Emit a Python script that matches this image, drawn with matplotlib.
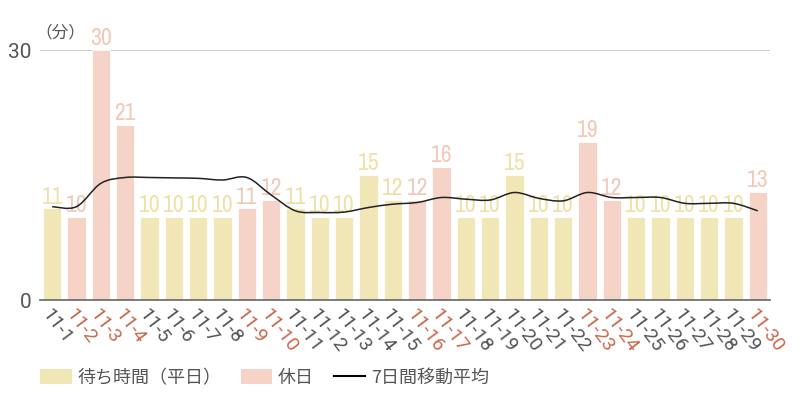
import matplotlib
matplotlib.use('Agg')
import matplotlib.pyplot as plt
import numpy as np
from matplotlib import font_manager
from matplotlib.path import Path
from matplotlib.patches import PathPatch, Patch
from matplotlib.lines import Line2D

plt.rcParams['font.family'] = ['Noto Sans CJK JP', 'DejaVu Sans']

# data
days = list(range(1, 31))
tick_labels = ['11-' + str(d) for d in days]
wait_minutes = [11, 10, 30, 21, 10, 10, 10, 10, 11, 12,
                11, 10, 10, 15, 12, 12, 16, 10, 10, 15,
                10, 10, 19, 12, 10, 10, 10, 10, 10, 13]
holidays = [2, 3, 4, 9, 10, 16, 17, 23, 24, 30]
moving_avg = [11.2, 11.2, 14.0, 14.7, 14.7, 14.65, 14.6, 14.4, 14.7, 12.6,
              10.7, 10.5, 10.55, 11.1, 11.5, 11.7, 12.3, 12.1, 12.0, 12.9,
              12.2, 11.9, 12.9, 12.3, 12.3, 12.3, 11.6, 11.6, 11.6, 10.7]

weekday_color = '#F1E6B6'
holiday_color = '#F5D4C7'
weekday_text = '#EEE1A8'
holiday_text = '#F1C9B9'
tick_gray = '#555555'
tick_red = '#C9694C'

# look for a narrow face for the value labels
narrow_family = None
narrow_stretch = 'normal'
for f in font_manager.fontManager.ttflist:
    if 'Narrow' in f.name or 'Condensed' in f.name:
        narrow_family = f.name
        break
if narrow_family is None:
    for f in font_manager.fontManager.ttflist:
        if f.stretch in ('condensed', 'semi-condensed', 'extra-condensed', 600, 700) and f.style == 'normal':
            narrow_family = f.name
            narrow_stretch = f.stretch
            break
if narrow_family is None:
    narrow_family = 'Roboto'


def smooth_path(xs, ys):
    pts = np.column_stack([xs, ys]).astype(float)
    n = len(pts)
    verts = [pts[0]]
    codes = [Path.MOVETO]
    for i in range(n - 1):
        p0 = pts[max(i - 1, 0)]
        p1 = pts[i]
        p2 = pts[i + 1]
        p3 = pts[min(i + 2, n - 1)]
        c1 = p1 + (p2 - p0) / 6.0
        c2 = p2 - (p3 - p1) / 6.0
        verts += [c1, c2, p2]
        codes += [Path.CURVE4] * 3
    return Path(verts, codes)


fig = plt.figure(figsize=(8, 4), dpi=100)
ax = fig.add_axes([0.05, 0.25, 0.9125, 0.625])

x = np.arange(len(days))
is_hol = [d in holidays for d in days]
colors = [holiday_color if h else weekday_color for h in is_hol]
ax.bar(x, wait_minutes, width=0.75, color=colors, edgecolor='white', linewidth=0.6, zorder=2)

for xi, v, h in zip(x, wait_minutes, is_hol):
    ax.text(xi, v + 0.1, str(v), ha='center', va='bottom', fontsize=17,
            family=[narrow_family, 'DejaVu Sans'], stretch=narrow_stretch,
            color=holiday_text if h else weekday_text, zorder=3, clip_on=False)

ax.add_patch(PathPatch(smooth_path(x, moving_avg), facecolor='none',
                       edgecolor='#222222', linewidth=1.1, zorder=4))

ax.set_xlim(-0.5, 29.5)
ax.set_ylim(0, 30)
ax.set_yticks([0, 30])
ax.set_yticklabels(['0', '30'], fontsize=15, color=tick_gray, family=['Roboto', 'DejaVu Sans'])
ax.tick_params(axis='y', length=0, pad=6)
ax.axhline(30, color='#CCCCCC', linewidth=0.8, zorder=1)

ax.set_xticks(x)
ax.set_xticklabels(tick_labels, rotation=-53, ha='left', rotation_mode='anchor',
                   fontsize=14, family=['Roboto', 'DejaVu Sans'])
for lbl, h in zip(ax.get_xticklabels(), is_hol):
    lbl.set_color(tick_red if h else tick_gray)
ax.tick_params(axis='x', length=0, pad=4)

for s in ['top', 'right', 'left']:
    ax.spines[s].set_visible(False)
ax.spines['bottom'].set_color('#666666')
ax.spines['bottom'].set_linewidth(1.2)

fig.text(0.044, 0.918, '（分）', fontsize=12, color=tick_gray, ha='left', va='center')

handles = [Patch(facecolor=weekday_color, edgecolor='none'),
           Patch(facecolor=holiday_color, edgecolor='none'),
           Line2D([], [], color='black', linewidth=1.5)]
names = ['待ち時間（平日）', '休日', '7日間移動平均']
leg = fig.legend(handles, names, loc='center left', bbox_to_anchor=(0.05, 0.055),
                 ncol=3, frameon=False, fontsize=13, borderpad=0, borderaxespad=0,
                 handlelength=1.75, handleheight=0.9, handletextpad=0.3, columnspacing=1.1)
for t in leg.get_texts():
    t.set_color(tick_gray)

fig.savefig('out.png', dpi=100)
